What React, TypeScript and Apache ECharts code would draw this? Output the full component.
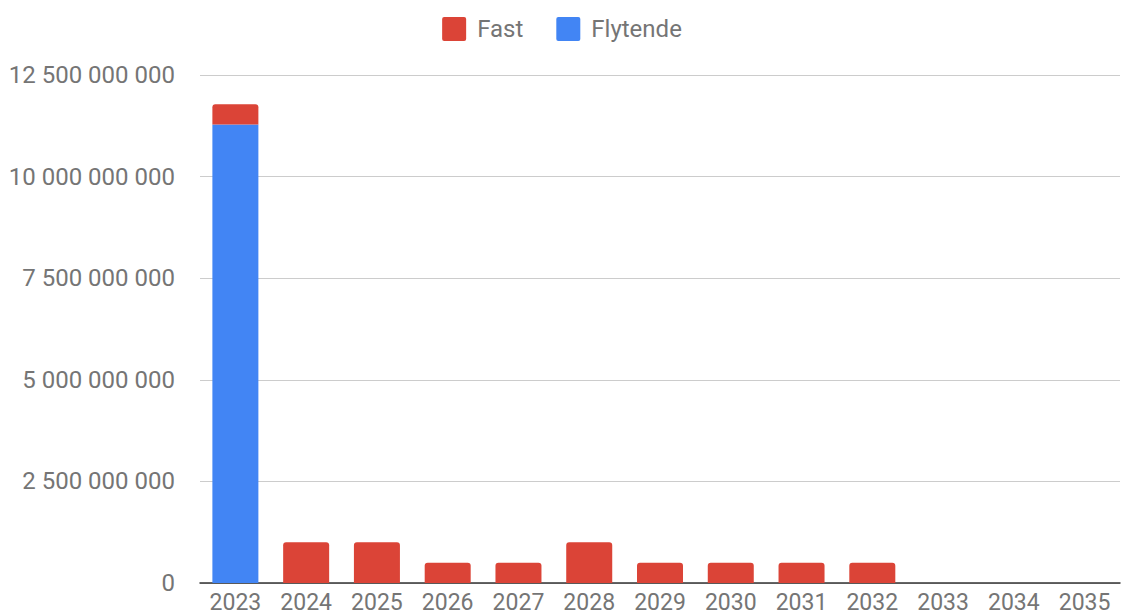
import React, { useEffect, useRef } from "react";
import * as echarts from "echarts";

const years = ["2023", "2024", "2025", "2026", "2027", "2028", "2029", "2030", "2031", "2032", "2033", "2034", "2035"];
const fast = [500000000, 1000000000, 1000000000, 500000000, 500000000, 1000000000, 500000000, 500000000, 500000000, 500000000, 0, 0, 0];
const flytende = [11280000000, 0, 0, 0, 0, 0, 0, 0, 0, 0, 0, 0, 0];
const yTicks = { min: 0, max: 12500000000, interval: 2500000000 };

const fmt = (v: number) => String(Math.round(v)).replace(/\B(?=(\d{3})+(?!\d))/g, " ");

const icon = "path://M2,0 L22,0 Q24,0 24,2 L24,22 Q24,24 22,24 L2,24 Q0,24 0,22 L0,2 Q0,0 2,0 Z";

export default function App() {
  const ref = useRef<HTMLDivElement>(null);
  useEffect(() => {
    const chart = echarts.init(ref.current!, null, { renderer: "svg" });
    chart.setOption({
      animation: false,
      textStyle: { fontFamily: "Roboto" },
      legend: {
        data: ["Fast", "Flytende"],
        top: 12,
        left: "center",
        itemWidth: 24,
        itemHeight: 24,
        itemGap: 33,
        icon,
        textStyle: { fontSize: 24, color: "#757575", fontFamily: "Roboto", padding: [0, 0, 0, 6] },
      },
      grid: { left: 200, right: 4, top: 75, bottom: 32, containLabel: false },
      xAxis: {
        type: "category",
        data: years,
        axisTick: { show: false },
        axisLine: { lineStyle: { color: "#333", width: 1.5 } },
        axisLabel: { fontSize: 23, lineHeight: 20, color: "#757575", margin: 9 },
      },
      yAxis: {
        type: "value",
        min: yTicks.min,
        max: yTicks.max,
        interval: yTicks.interval,
        axisLine: { show: false },
        axisTick: { show: false },
        splitLine: { lineStyle: { color: "#cccccc", width: 1 } },
        axisLabel: { fontSize: 24, color: "#757575", margin: 25, formatter: (v: number) => fmt(v) },
      },
      series: [
        {
          name: "Flytende",
          type: "bar",
          stack: "total",
          data: flytende,
          barWidth: 46,
          itemStyle: { color: "#4285F4" },
        },
        {
          name: "Fast",
          type: "bar",
          stack: "total",
          data: fast,
          barWidth: 46,
          itemStyle: { color: "#DB4437", borderRadius: [3, 3, 0, 0] },
        },
      ],
    });
    return () => chart.dispose();
  }, []);
  return (
    <div
      ref={ref}
      style={{ width: 1124, height: 615, position: "absolute", left: 0, top: 0, overflow: "hidden" }}
    />
  );
}
